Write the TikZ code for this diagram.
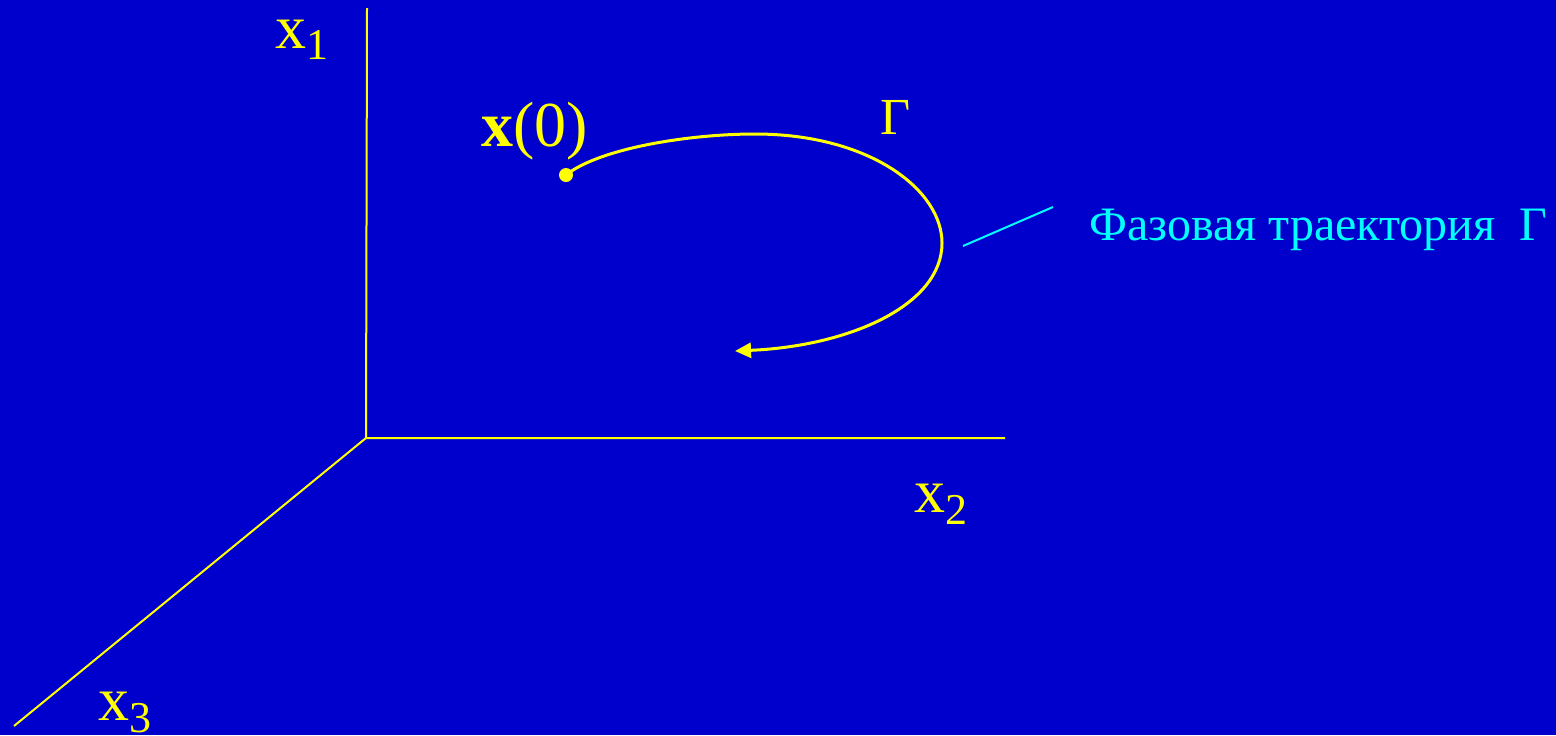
\documentclass[tikz,border=0pt]{standalone}
\usepackage{fontspec}
\setmainfont{Liberation Serif}
\usetikzlibrary{arrows.meta}
\definecolor{bg}{RGB}{0,0,204}
\definecolor{yel}{RGB}{255,255,0}
\definecolor{cy}{RGB}{0,255,255}
\tikzset{
  axis/.style={draw=yel, line width=1pt},
  traj/.style={draw=yel, line width=1.5pt},
  lbl/.style={text=yel, inner sep=0pt, anchor=base west, font=\fontsize{31}{36}\selectfont},
  cylbl/.style={text=cy, inner sep=0pt, anchor=base west, font=\fontsize{24}{28}\selectfont},
}
\begin{document}
\begin{tikzpicture}[x=0.5pt, y=-0.5pt]
\fill[bg] (0,0) rectangle (1556,735);
\useasboundingbox (0,0) rectangle (1556,735);
\coordinate (O) at (366,438);
\coordinate (X1) at (367,8);
\coordinate (X2) at (1005,438);
\coordinate (X3) at (14,726);
\draw[axis] (X1) -- (O) -- (X2);
\draw[axis] (O) -- (X3);
\node[lbl] (l1) at (275,48) {x\textsubscript{\fontsize{22}{26}\selectfont 1}};
\node[lbl] (l2) at (914,512) {x\textsubscript{\fontsize{22}{26}\selectfont 2}};
\node[lbl] (l3) at (98,720) {x\textsubscript{\fontsize{22}{26}\selectfont 3}};
\coordinate (S) at (566,175);
\coordinate (E) at (735,351);
\fill[yel] (S) circle (7);
\draw[traj, -{Triangle[length=8pt,width=7.5pt]}] (S) .. controls (600,148) and (690,134) .. (755,134)
  .. controls (870,134) and (942,190) .. (942,243)
  .. controls (942,305) and (850,346) .. (E);
\node[lbl, font=\fontsize{32}{37}\selectfont] (x0) at (481,146) {\textbf{x}(0)};
\node[lbl, font=\fontsize{26}{30}\selectfont] (G) at (880,134) {Γ};
\coordinate (c1) at (963,246);
\coordinate (c2) at (1053,207);
\draw[cy, line width=1pt] (c1) -- (c2);
\node[cylbl] (ft) at (1089,240) {Фазовая траектория \ Г};
\end{tikzpicture}
\end{document}
